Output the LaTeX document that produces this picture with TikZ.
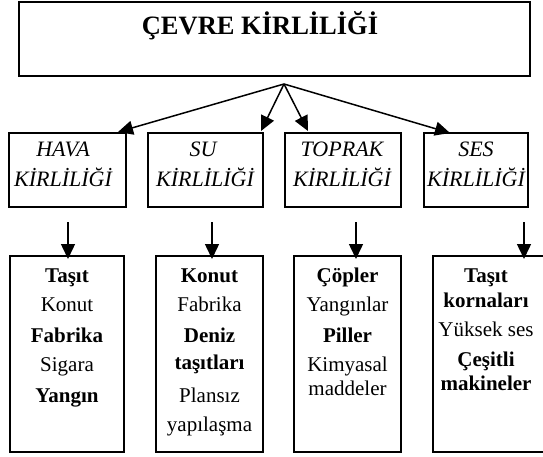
\documentclass[tikz,border=0pt]{standalone}
\usepackage{fontspec}
\setmainfont{Liberation Serif}
\usetikzlibrary{arrows.meta}
\begin{document}
\begin{tikzpicture}[x=1pt,y=-1pt,
  box/.style={draw,line width=1.8pt,inner sep=0pt},
  topbox/.style={draw,line width=2.2pt,inner sep=0pt},
  conn/.style={line width=1.5pt,-{Triangle[length=15pt,width=14pt]}},
  cat/.style={anchor=base,font=\itshape\fontsize{22}{26}\selectfont},
  it/.style={anchor=base,font=\fontsize{21}{24}\selectfont},
  itb/.style={anchor=base,font=\bfseries\fontsize{21}{24}\selectfont}]
\useasboundingbox (0,0) rectangle (543,457);
\clip (0,0) rectangle (543,457);
% top
\node[topbox,minimum width=511pt,minimum height=74pt] (top) at (274.5,39) {};
\node[anchor=base,font=\bfseries\fontsize{26.5}{30}\selectfont] (title) at (260,35) {ÇEVRE KİRLİLİĞİ};
% second row
\node[box,minimum width=117pt,minimum height=74pt] (hava) at (67.5,170) {};
\node[box,minimum width=115pt,minimum height=74pt] (su) at (205.5,170) {};
\node[box,minimum width=116pt,minimum height=74pt] (toprak) at (343,170) {};
\node[box,minimum width=104pt,minimum height=74pt] (ses) at (476,170) {};
\node[cat] (h1) at (63,157) {HAVA};
\node[cat] (h2) at (63,186) {KİRLİLİĞİ};
\node[cat] (s1) at (203,157) {SU};
\node[cat] (s2) at (205,186) {KİRLİLİĞİ};
\node[cat] (t1) at (342,157) {TOPRAK};
\node[cat] (t2) at (342,186) {KİRLİLİĞİ};
\node[cat] (e1) at (476,157) {SES};
\node[cat] (e2) at (476,186) {KİRLİLİĞİ};
% third row
\node[box,minimum width=114pt,minimum height=196pt] (lhava) at (67,354) {};
\node[box,minimum width=107pt,minimum height=196pt] (lsu) at (209.5,354) {};
\node[box,minimum width=107pt,minimum height=196pt] (ltoprak) at (347.5,354) {};
\node[box,minimum width=114pt,minimum height=196pt] (lses) at (490,354) {};
% lists
\node[itb] (ha1) at (67,282) {Taşıt};
\node[it]  (ha2) at (67,311) {Konut};
\node[itb] (ha3) at (67,342) {Fabrika};
\node[it]  (ha4) at (67,371) {Sigara};
\node[itb] (ha5) at (67,402) {Yangın};
\node[itb] (su1) at (209.5,282) {Konut};
\node[it]  (su2) at (209.5,311) {Fabrika};
\node[itb] (su3) at (209.5,342) {Deniz};
\node[itb] (su4) at (209.5,369) {taşıtları};
\node[it]  (su5) at (209.5,402) {Plansız};
\node[it]  (su6) at (209.5,431) {yapılaşma};
\node[itb] (to1) at (347.5,282) {Çöpler};
\node[it]  (to2) at (347.5,311) {Yangınlar};
\node[itb] (to3) at (347.5,342) {Piller};
\node[it]  (to4) at (347.5,371) {Kimyasal};
\node[it]  (to5) at (347.5,395) {maddeler};
\node[itb] (se1) at (486,282) {Taşıt};
\node[itb] (se2) at (486,307) {kornaları};
\node[it]  (se3) at (486,336) {Yüksek ses};
\node[itb] (se4) at (486,366) {Çeşitli};
\node[itb] (se5) at (486,390) {makineler};
% connectors
\coordinate (hub) at (284,84);
\coordinate (th) at (118,132);
\coordinate (ts) at (261,131);
\coordinate (tt) at (308,131);
\coordinate (te) at (450,133);
\draw[conn] (hub) -- (th);
\draw[conn] (hub) -- (ts);
\draw[conn] (hub) -- (tt);
\draw[conn] (hub) -- (te);
\coordinate (dh0) at (68,222); \coordinate (dh1) at (68,259);
\coordinate (ds0) at (212,222); \coordinate (ds1) at (212,259);
\coordinate (dt0) at (356,222); \coordinate (dt1) at (356,259);
\coordinate (de0) at (524,222); \coordinate (de1) at (524,259);
\draw[conn] (dh0) -- (dh1);
\draw[conn] (ds0) -- (ds1);
\draw[conn] (dt0) -- (dt1);
\draw[conn] (de0) -- (de1);
\end{tikzpicture}
\end{document}
